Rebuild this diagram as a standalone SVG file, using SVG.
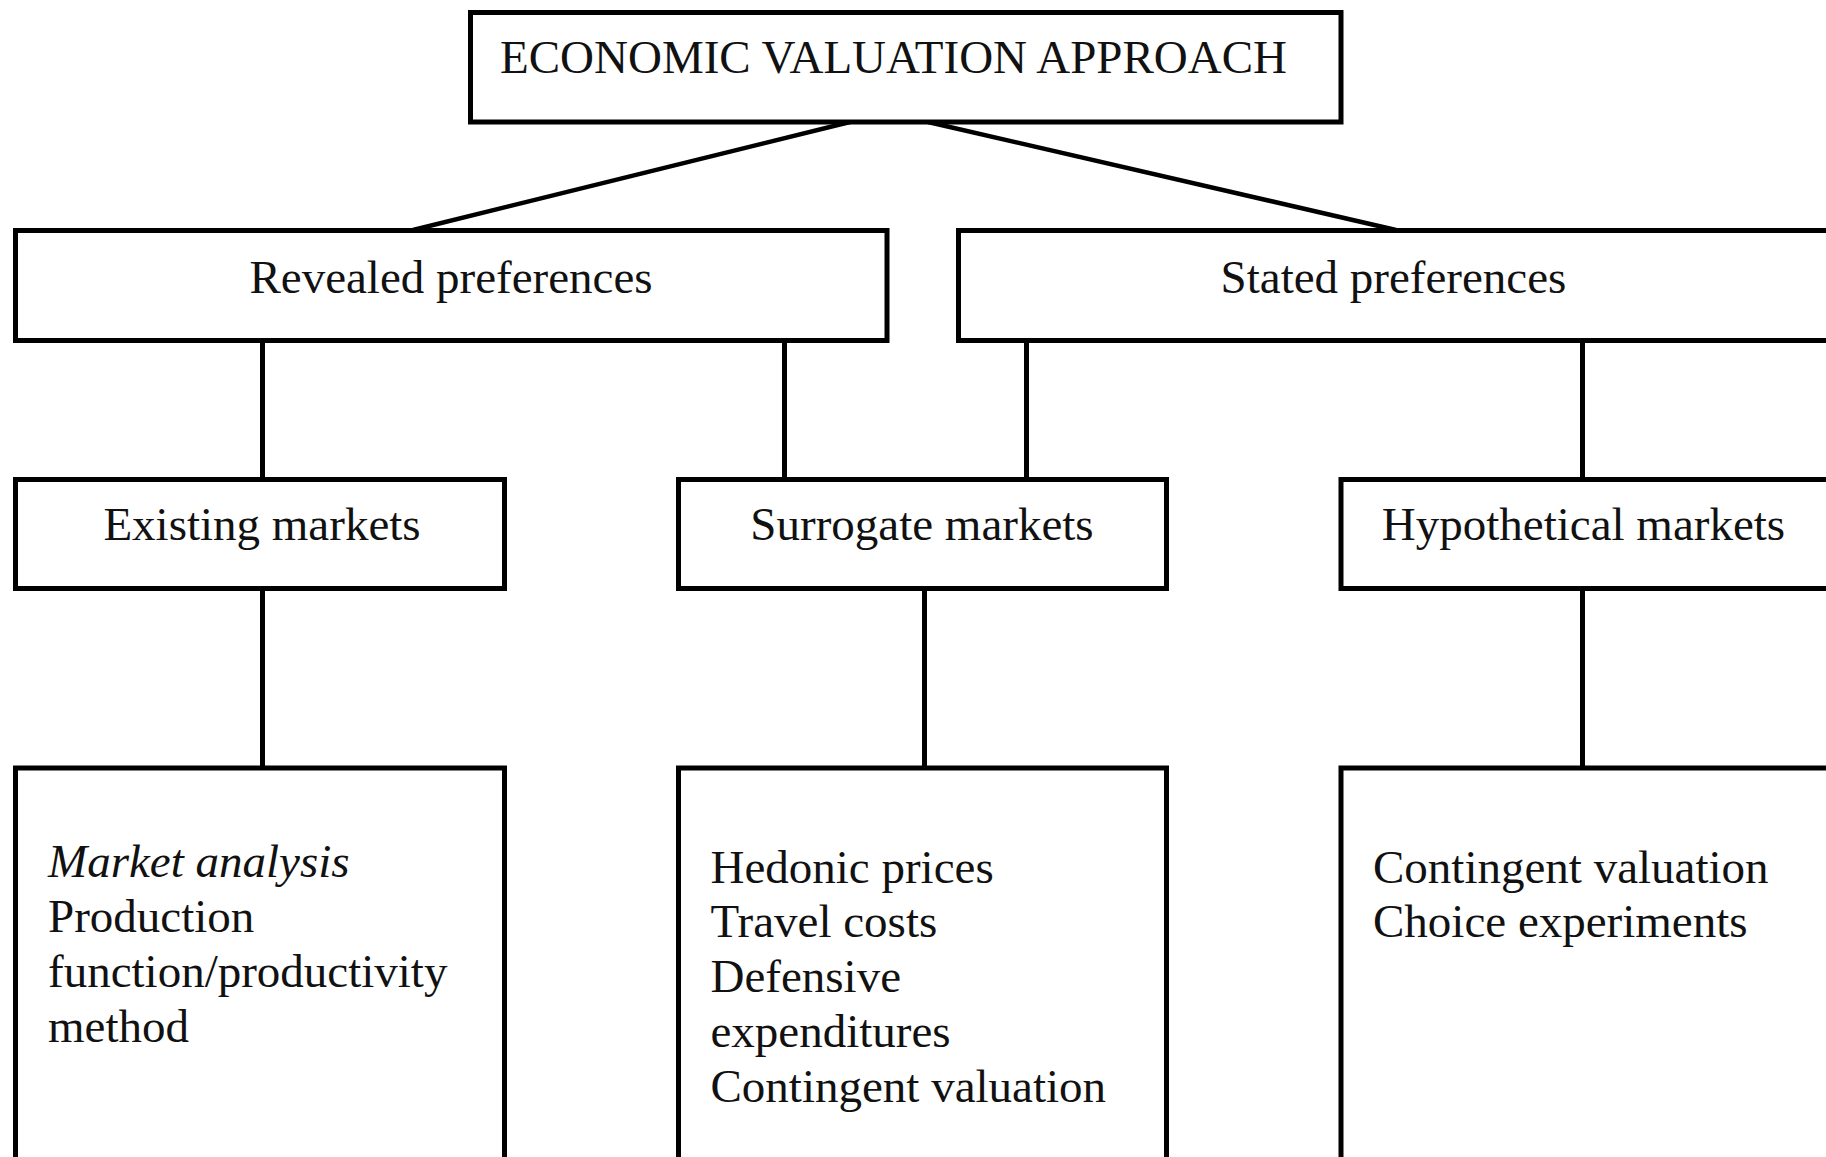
<svg xmlns="http://www.w3.org/2000/svg" width="1826" height="1157" viewBox="0 0 1826 1157">
<style>
  .box { fill: #ffffff; stroke: #000000; stroke-width: 5; }
  .edge { stroke: #000000; stroke-width: 5; fill: none; }
  .diag { stroke: #000000; stroke-width: 4.5; fill: none; }
  .t { font-family: "Liberation Serif", "Times New Roman", serif; font-size: 47px; fill: #111111; }
  .c { text-anchor: middle; }
  .i { font-style: italic; }
</style>
<rect x="0" y="0" width="1826" height="1157" fill="#ffffff"/>
<g id="connectors">
  <line class="diag" x1="850" y1="122" x2="413" y2="230"/>
  <line class="diag" x1="928" y1="122" x2="1396" y2="230"/>
  <line class="edge" x1="262.5" y1="340" x2="262.5" y2="480"/>
  <line class="edge" x1="784.5" y1="340" x2="784.5" y2="480"/>
  <line class="edge" x1="1026.5" y1="340" x2="1026.5" y2="480"/>
  <line class="edge" x1="1582.5" y1="340" x2="1582.5" y2="480"/>
  <line class="edge" x1="262.5" y1="589" x2="262.5" y2="768"/>
  <line class="edge" x1="924.5" y1="589" x2="924.5" y2="768"/>
  <line class="edge" x1="1582.5" y1="589" x2="1582.5" y2="768"/>
</g>
<g id="node-root">
  <rect class="box" x="470.5" y="12.5" width="870.5" height="109.5"/>
  <text class="t" x="500" y="73">ECONOMIC VALUATION APPROACH</text>
</g>
<g id="node-revealed">
  <rect class="box" x="15.5" y="230.5" width="871.5" height="110"/>
  <text class="t c" x="451" y="293">Revealed preferences</text>
</g>
<g id="node-stated">
  <rect class="box" x="958.5" y="230.5" width="880" height="110"/>
  <text class="t c" x="1393.5" y="293">Stated preferences</text>
</g>
<g id="node-existing">
  <rect class="box" x="15.5" y="479.5" width="489" height="109"/>
  <text class="t c" x="262" y="540">Existing markets</text>
</g>
<g id="node-surrogate">
  <rect class="box" x="678.5" y="479.5" width="488" height="109"/>
  <text class="t c" x="922" y="540">Surrogate markets</text>
</g>
<g id="node-hypothetical">
  <rect class="box" x="1341" y="479.5" width="495" height="109"/>
  <text class="t c" x="1583.5" y="540">Hypothetical markets</text>
</g>
<g id="node-existing-methods">
  <rect class="box" x="15.5" y="768" width="489" height="420"/>
  <text class="t i" x="48" y="877">Market analysis</text>
  <text class="t" x="48" y="932">Production</text>
  <text class="t" x="48" y="987">function/productivity</text>
  <text class="t" x="48" y="1042">method</text>
</g>
<g id="node-surrogate-methods">
  <rect class="box" x="678.5" y="768" width="488" height="420"/>
  <text class="t" x="710.5" y="882.5">Hedonic prices</text>
  <text class="t" x="710.5" y="937.3">Travel costs</text>
  <text class="t" x="710.5" y="992">Defensive</text>
  <text class="t" x="710.5" y="1046.8">expenditures</text>
  <text class="t" x="710.5" y="1101.6">Contingent valuation</text>
</g>
<g id="node-hypothetical-methods">
  <rect class="box" x="1341" y="768" width="495" height="420"/>
  <text class="t" x="1373" y="882.5">Contingent valuation</text>
  <text class="t" x="1373" y="937.3">Choice experiments</text>
</g>
</svg>
